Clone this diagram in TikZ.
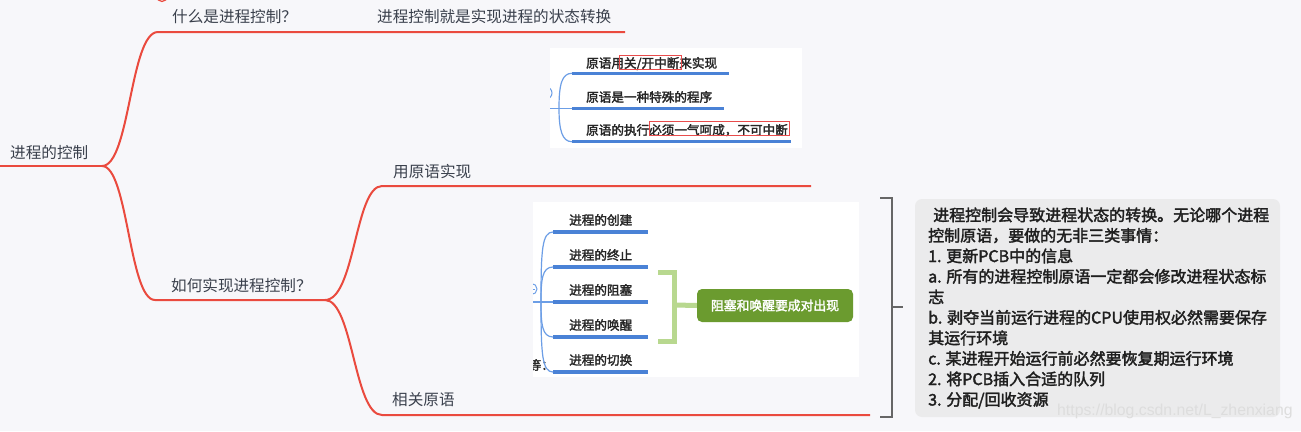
\documentclass[tikz,border=0pt]{standalone}
\usepackage{fontspec}
\newfontfamily\cjk{Noto Sans CJK SC}
\newfontfamily\cjkmed[FakeBold=2.2]{Noto Sans CJK SC}
\newfontfamily\wmfont{Liberation Sans}
\usetikzlibrary{positioning,calc}
\definecolor{mapbg}{HTML}{F7F7FA}
\definecolor{mapred}{HTML}{EA4A3E}
\definecolor{topictext}{HTML}{3A404C}
\definecolor{shotblue}{HTML}{4A82D6}
\definecolor{shotcurve}{HTML}{6C9EE6}
\definecolor{boxred}{HTML}{E84C4C}
\definecolor{pairgreen}{HTML}{6B9B2F}
\definecolor{bracegreen}{HTML}{B8D88F}
\definecolor{notegray}{HTML}{EBEBEC}
\definecolor{bracegray}{HTML}{666666}

\begin{document}
\begin{tikzpicture}[
  x=1pt, y=-1pt,
  branch/.style={draw=mapred, line width=2pt},
  topic/.style={font=\cjk\fontsize{15.6}{18}\selectfont, text=topictext,
                anchor=base west, inner sep=0pt},
  shot/.style={fill=white, anchor=north west, inner sep=0pt},
  leaf/.style={font=\cjkmed\fontsize{12.6}{15}\selectfont, text=black!85,
               anchor=base west, inner sep=0pt},
  leafline/.style={draw=shotblue, line width=3.3pt},
  leafcurve/.style={draw=shotcurve, line width=1.2pt},
  hilite/.style={draw=boxred, line width=0.8pt},
  pairnote/.style={rectangle, rounded corners=5pt, fill=pairgreen, text=white,
                   font=\cjkmed\fontsize{12.8}{15}\selectfont, inner sep=0pt,
                   minimum width=156pt, minimum height=33pt},
  greenbrace/.style={draw=bracegreen, line width=5pt},
  graybrace/.style={draw=bracegray, line width=2pt},
  note/.style={rectangle, rounded corners=7pt, fill=notegray, inner sep=0pt,
               minimum width=365pt, minimum height=218pt},
  notetext/.style={font=\cjkmed\fontsize{16}{20}\selectfont, text=black!88,
                   anchor=base west, inner sep=0pt},
  watermark/.style={font=\wmfont\fontsize{15.8}{18}\selectfont, text=gray!27,
                    anchor=base west, inner sep=0pt}
]
  \path[use as bounding box, fill=mapbg] (0,0) rectangle (1301,431);
  \clip (0,0) rectangle (1301,431);

  % sliver of a node cut at the top edge
  \draw[mapred, line width=1.2pt] (162,-4) circle (5.5);

  % mind map topics
  \node[topic] (root)    at (10,158)  {进程的控制};
  \node[topic] (what)    at (172,23)  {什么是进程控制？};
  \node[topic] (whatans) at (377,23)  {进程控制就是实现进程的状态转换};
  \node[topic] (how)     at (171,291) {如何实现进程控制？};
  \node[topic] (byprim)  at (393,177) {用原语实现};
  \node[topic] (relprim) at (392,405) {相关原语};

  \coordinate (rootstart) at (0,166);
  \coordinate (rootfork)  at (102,166);
  \coordinate (whatstart) at (158,32);
  \coordinate (whatend)   at (625,32);
  \coordinate (howstart)  at (155,300);
  \coordinate (howfork)   at (325,300);
  \coordinate (bystart)   at (382,186);
  \coordinate (byend)     at (811,186);
  \coordinate (relstart)  at (382,415);
  \coordinate (relend)    at (870,415);

  % red branches
  \draw[branch] (rootstart) -- (rootfork);
  \draw[branch] (rootfork) .. controls (130,166) and (130,32) .. (whatstart) -- (whatend);
  \draw[branch] (rootfork) .. controls (128,166) and (129,300) .. (howstart) -- (howfork);
  \draw[branch] (howfork) .. controls (355,300) and (355,186) .. (bystart) -- (byend);
  \draw[branch] (howfork) .. controls (353,300) and (354,415) .. (relstart) -- (relend);

  % screenshot: what a primitive is
  \node[shot, minimum width=252pt, minimum height=100pt] (shotA) at (550,48) {};
  \begin{scope}
    \clip (shotA.north west) rectangle (shotA.south east);
    \draw[shotcurve, line width=1pt] (546,93) circle (6);
    \draw[shotcurve, line width=1pt] (542,93) -- (550,93);
  \end{scope}
  \node[leaf] (primA) at (586,67.8)  {原语用关/开中断来实现};
  \node[leaf] (primB) at (586,101.8) {原语是一种特殊的程序};
  \node[leaf] (primC) at (586,134.8) {原语的执行必须一气呵成，不可中断};
  \draw[hilite] (619,55) rectangle (681,69);
  \draw[hilite] (649,121) rectangle (789,135);

  \coordinate (forkA) at (559,108);
  \coordinate (primAstart) at (572,73.3);
  \coordinate (primBstart) at (572,108.3);
  \coordinate (primCstart) at (572,141.7);
  \draw[leafline] (primAstart) -- (729,73.3);
  \draw[leafline] (primBstart) -- (724,108.3);
  \draw[leafline] (primCstart) -- (791,141.7);
  \draw[leafcurve] (shotA.west |- primBstart) -- (primBstart);
  \draw[leafcurve] (forkA) .. controls (559,84) and (562,73.3) .. (primAstart);
  \draw[leafcurve] (forkA) .. controls (559,130) and (562,141.7) .. (primCstart);

  % screenshot: process control primitives
  \node[shot, minimum width=326pt, minimum height=175pt] (shotB) at (533,202) {};
  \begin{scope}
    \clip (shotB.north west) rectangle (shotB.south east);
    \draw[shotcurve, line width=1pt] (531.5,289) circle (5.5);
    \draw[shotcurve, line width=1pt] (528,289) -- (535,289);
    \node[leaf] (etc) at (528.5,369.8) {等：};
  \end{scope}
  \foreach \i/\op in {1/创建,2/终止,3/阻塞,4/唤醒,5/切换}{
    \coordinate (opstart\i) at (553,{197+35*\i});
    \coordinate (opend\i) at (648,{197+35*\i});
    \node[leaf] (op\i) at (569,{189.8+35*\i}) {进程的\op};
    \draw[leafline] (opstart\i) -- (opend\i);
  }
  \coordinate (forkB) at (541,302);
  \draw[leafcurve] (shotB.west |- opstart3) -- (opstart3);
  \foreach \i/\c in {1/250,2/280,4/324,5/354}{
    \draw[leafcurve] (forkB) .. controls (541,\c) and ($(opstart\i)+(-11,0)$) .. (opstart\i);
  }

  % block and wakeup come in pairs
  \node[pairnote] (pair) at (775,305.5) {阻塞和唤醒要成对出现};
  \coordinate (gbtop) at (658,272);
  \coordinate (gbbot) at (658,341);
  \draw[greenbrace] (gbtop) -- (674.5,272) -- (674.5,341) -- (gbbot);
  \draw[greenbrace] (674.5,305) -- (pair.west);

  % summary note
  \node[note] (summary) at (1097.5,308) {};
  \coordinate (gytop) at (880,198);
  \coordinate (gybot) at (880,417);
  \draw[graybrace] (gytop) -- (892,198) -- (892,417) -- (gybot);
  \draw[graybrace] (892,307) -- (903,307);
  \foreach \txt [count=\i] in {%
      {\hspace*{5pt}进程控制会导致进程状态的转换。无论哪个进程},
      {控制原语，要做的无非三类事情：},
      {1. 更新PCB中的信息},
      {a. 所有的进程控制原语一定都会修改进程状态标},
      {志},
      {b. 剥夺当前运行进程的CPU使用权必然需要保存},
      {其运行环境},
      {c. 某进程开始运行前必然要恢复期运行环境},
      {2. 将PCB插入合适的队列},
      {3. 分配/回收资源}}{
    \node[notetext] (noteline\i) at (928,{221+20.5*(\i-1)}) {\txt};
  }

  \node[watermark] (wm) at (1057,415) {https://blog.csdn.net/L\_zhenxiang};
\end{tikzpicture}
\end{document}
